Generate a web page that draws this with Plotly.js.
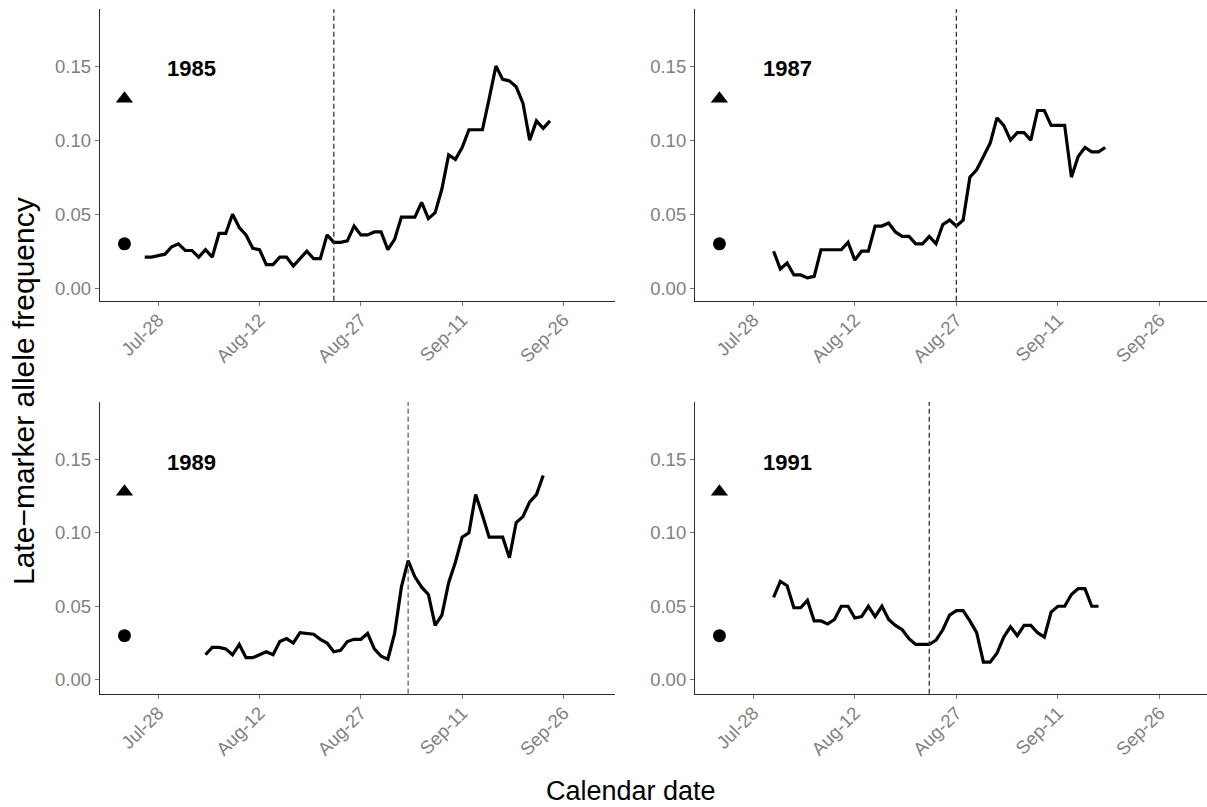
<!DOCTYPE html>
<html><head><meta charset="utf-8">
<script src="https://cdn.plot.ly/plotly-3.0.1.min.js"></script>
<style>html,body{margin:0;padding:0;background:#fff}#chart{width:1207px;height:807px}</style>
</head><body><div id="chart"></div>
<script>
// ---------------- data ----------------
const years = ["1985", "1987", "1989", "1991"];
const tickDays = ["07-28", "08-12", "08-27", "09-11", "09-26"];
const tickLabels = ["Jul-28", "Aug-12", "Aug-27", "Sep-11", "Sep-26"];
const yTickVals = [0, 0.05, 0.10, 0.15];
const yTickText = ["0.00", "0.05", "0.10", "0.15"];

const days1985 = ["07-26","07-27","07-28","07-29","07-30","07-31","08-01","08-02","08-03","08-04","08-05","08-06","08-07","08-08","08-09","08-10","08-11","08-12","08-13","08-14","08-15","08-16","08-17","08-18","08-19","08-20","08-21","08-22","08-23","08-24","08-25","08-26","08-27","08-28","08-29","08-30","08-31","09-01","09-02","09-03","09-04","09-05","09-06","09-07","09-08","09-09","09-10","09-11","09-12","09-13","09-14","09-15","09-16","09-17","09-18","09-19","09-20","09-21","09-22","09-23","09-24"];
const freq1985 = [0.021,0.021,0.022,0.023,0.028,0.030,0.0255,0.0255,0.021,0.026,0.021,0.037,0.037,0.050,0.041,0.036,0.027,0.026,0.016,0.016,0.021,0.021,0.015,0.020,0.025,0.020,0.020,0.036,0.031,0.031,0.032,0.042,0.036,0.036,0.038,0.038,0.026,0.033,0.048,0.048,0.048,0.058,0.047,0.051,0.067,0.090,0.087,0.095,0.107,0.107,0.107,0.128,0.150,0.141,0.140,0.136,0.125,0.100,0.113,0.108,0.113];

const days1987 = ["07-31","08-01","08-02","08-03","08-04","08-05","08-06","08-07","08-08","08-09","08-10","08-11","08-12","08-13","08-14","08-15","08-16","08-17","08-18","08-19","08-20","08-21","08-22","08-23","08-24","08-25","08-26","08-27","08-28","08-29","08-30","08-31","09-01","09-02","09-03","09-04","09-05","09-06","09-07","09-08","09-09","09-10","09-11","09-12","09-13","09-14","09-15","09-16","09-17","09-18"];
const freq1987 = [0.025,0.013,0.017,0.009,0.009,0.007,0.008,0.026,0.026,0.026,0.026,0.031,0.019,0.025,0.025,0.042,0.042,0.044,0.038,0.035,0.035,0.030,0.030,0.035,0.030,0.043,0.046,0.042,0.046,0.075,0.080,0.089,0.098,0.115,0.110,0.100,0.105,0.105,0.100,0.120,0.120,0.110,0.110,0.110,0.075,0.089,0.095,0.092,0.092,0.095];

const days1989 = ["08-04","08-05","08-06","08-07","08-08","08-09","08-10","08-11","08-12","08-13","08-14","08-15","08-16","08-17","08-18","08-19","08-20","08-21","08-22","08-23","08-24","08-25","08-26","08-27","08-28","08-29","08-30","08-31","09-01","09-02","09-03","09-04","09-05","09-06","09-07","09-08","09-09","09-10","09-11","09-12","09-13","09-14","09-15","09-16","09-17","09-18","09-19","09-20","09-21","09-22","09-23"];
const freq1989 = [0.017,0.022,0.022,0.021,0.017,0.024,0.015,0.015,0.017,0.019,0.017,0.026,0.028,0.025,0.032,0.0315,0.031,0.0275,0.025,0.019,0.020,0.026,0.0275,0.0275,0.0315,0.021,0.016,0.014,0.0315,0.063,0.081,0.070,0.063,0.058,0.037,0.044,0.066,0.080,0.097,0.100,0.126,0.112,0.097,0.097,0.097,0.083,0.107,0.111,0.121,0.126,0.139];

const days1991 = ["07-31","08-01","08-02","08-03","08-04","08-05","08-06","08-07","08-08","08-09","08-10","08-11","08-12","08-13","08-14","08-15","08-16","08-17","08-18","08-19","08-20","08-21","08-22","08-23","08-24","08-25","08-26","08-27","08-28","08-29","08-30","08-31","09-01","09-02","09-03","09-04","09-05","09-06","09-07","09-08","09-09","09-10","09-11","09-12","09-13","09-14","09-15","09-16","09-17"];
const freq1991 = [0.056,0.067,0.064,0.049,0.049,0.054,0.040,0.040,0.038,0.041,0.050,0.050,0.042,0.043,0.050,0.043,0.050,0.041,0.037,0.034,0.028,0.024,0.024,0.024,0.027,0.034,0.044,0.047,0.047,0.040,0.032,0.012,0.012,0.018,0.029,0.036,0.030,0.037,0.037,0.032,0.029,0.046,0.050,0.050,0.058,0.062,0.062,0.050,0.050];

const dashDays = ["08-23", "08-27", "09-03", "08-23"];
const markerDay = "07-23";
const triangleFreq = 0.128;
const circleFreq = 0.030;
const yearLabelDay = "08-02";
const yearLabelFreq = 0.148;

// ---------------- chart ----------------
const allDays = [days1985, days1987, days1989, days1991];
const allFreq = [freq1985, freq1987, freq1989, freq1991];
const FONT = "Liberation Sans, Arial, sans-serif";

const traces = [];
const shapes = [];
const annotations = [];
const layout = {
  width: 1207, height: 807,
  margin: {l: 0, r: 0, t: 0, b: 0},
  paper_bgcolor: "#fff", plot_bgcolor: "#fff",
  showlegend: false,
  font: {family: FONT}
};

const W = 1207, H = 807;
// panel pixel boxes [left, right, top, bottom]
const boxes = [[100, 615, 9.3, 300.7], [695.2, 1207, 9.3, 300.7], [100, 615, 402, 693.7], [695.2, 1207, 402, 693.7]];
const xRangeOff = [["07-19 09:07", "10-03 15:07"], ["07-19 10:05", "10-03 00:43"], ["07-19 09:07", "10-03 15:07"], ["07-19 10:05", "10-03 00:43"]];
const yRanges = [[-0.0084, 0.1883], [-0.0084, 0.1883], [-0.0095, 0.189], [-0.0095, 0.189]];

years.forEach((yr, i) => {
  const n = i === 0 ? "" : String(i + 1);
  const xa = "x" + n, ya = "y" + n;
  const b = boxes[i];
  layout["xaxis" + n] = {
    type: "date", anchor: ya,
    domain: [b[0] / W, b[1] / W],
    range: [yr + "-" + xRangeOff[i][0], yr + "-" + xRangeOff[i][1]],
    tickmode: "array",
    tickvals: tickDays.map(d => yr + "-" + d),
    ticktext: tickLabels,
    tickangle: -45,
    ticklabelstandoff: -4,
    showgrid: false, zeroline: false,
    showline: true, linecolor: "#2b2b2b", linewidth: 1.3,
    ticks: "outside", ticklen: 4, tickwidth: 1, tickcolor: "#777",
    tickfont: {family: FONT, size: 18.5, color: "#808080"},
    automargin: false, fixedrange: true
  };
  layout["yaxis" + n] = {
    anchor: xa,
    domain: [(H - b[3]) / H, (H - b[2]) / H],
    range: yRanges[i],
    tickmode: "array", tickvals: yTickVals, ticktext: yTickText,
    showgrid: false, zeroline: false,
    showline: true, linecolor: "#2b2b2b", linewidth: 1.3,
    ticks: "outside", ticklen: 4, tickwidth: 1, tickcolor: "#777",
    tickfont: {family: FONT, size: 18.5, color: "#808080"},
    automargin: false, fixedrange: true
  };

  traces.push({
    type: "scatter", mode: "lines", xaxis: xa, yaxis: ya,
    x: allDays[i].map(d => yr + "-" + d), y: allFreq[i],
    line: {color: "#000", width: 3.2}, hoverinfo: "skip"
  });
  traces.push({
    type: "scatter", mode: "markers", xaxis: xa, yaxis: ya,
    x: [yr + "-" + markerDay], y: [triangleFreq],
    marker: {symbol: "triangle-up", size: 15, color: "#000"}, hoverinfo: "skip"
  });
  traces.push({
    type: "scatter", mode: "markers", xaxis: xa, yaxis: ya,
    x: [yr + "-" + markerDay], y: [circleFreq],
    marker: {symbol: "circle", size: 13, color: "#000"}, hoverinfo: "skip"
  });

  shapes.push({
    type: "line", xref: xa, yref: ya + " domain",
    x0: yr + "-" + dashDays[i], x1: yr + "-" + dashDays[i], y0: 0, y1: 1,
    line: {color: "#333", width: i === 2 ? 1 : 1.3, dash: "5px,3px"}
  });

  annotations.push({
    xref: xa, yref: ya, x: yr + "-" + yearLabelDay, y: yearLabelFreq,
    text: "<b>" + yr + "</b>", showarrow: false,
    xanchor: "center", yanchor: "middle",
    font: {family: FONT, size: 22, color: "#000"}
  });
});

annotations.push({
  xref: "paper", yref: "paper", x: 631 / W, y: (H - 791) / H,
  text: "Calendar date", showarrow: false, xanchor: "center", yanchor: "middle",
  font: {family: FONT, size: 27, color: "#000"}
});
annotations.push({
  xref: "paper", yref: "paper", x: 23 / W, y: (H - 391) / H,
  text: "Late\u2212marker allele frequency", showarrow: false, textangle: -90,
  xanchor: "center", yanchor: "middle",
  font: {family: FONT, size: 30, color: "#000"}
});

layout.shapes = shapes;
layout.annotations = annotations;

Plotly.newPlot("chart", traces, layout, {displayModeBar: false, staticPlot: true});
</script>
</body></html>
